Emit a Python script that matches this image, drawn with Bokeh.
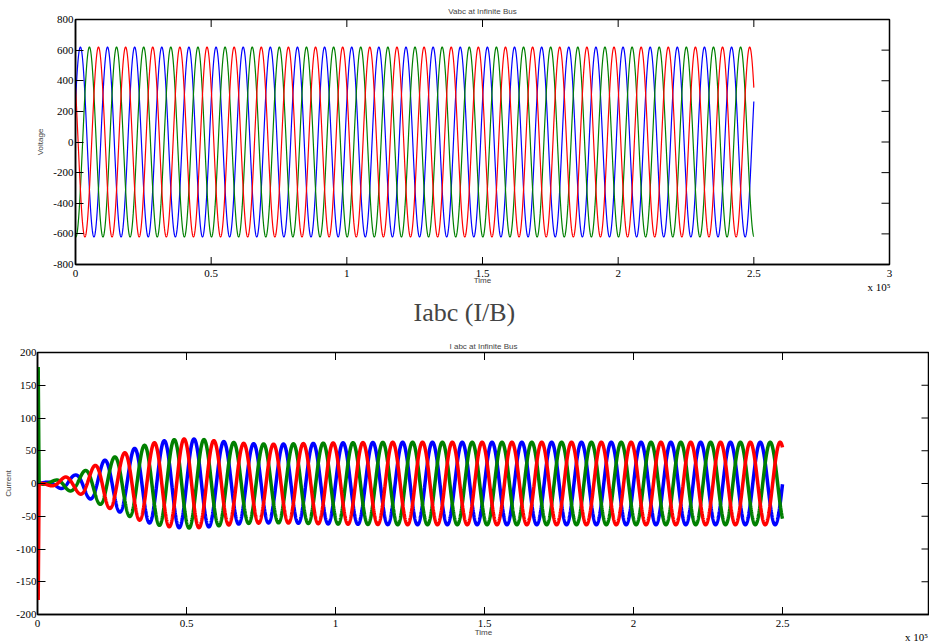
import numpy as np
from bokeh.plotting import figure
from bokeh.layouts import column
from bokeh.models import FixedTicker, CustomJSTickFormatter, Range1d, Title
from bokeh.embed import file_html
from bokeh.resources import INLINE

# ---------------- data ----------------
x_ticks = [0, 0.5, 1, 1.5, 2, 2.5, 3]
v_ticks = [-800, -600, -400, -200, 0, 200, 400, 600, 800]
i_ticks = [-200, -150, -100, -50, 0, 50, 100, 150, 200]
x_exponent = "x 10\u2075"

t_end = 2.5            # x 10^5
period = 0.1           # one cycle, in axis units
v_amp = 620            # voltage peak
# time (mod period) of each phase's positive peak
v_peak = {"blue": 0.018, "green": 0.0513, "red": 0.0847}
i_peak = {"blue": 0.0253, "green": 0.0587, "red": 0.092}

# current amplitude envelope
env_t = [0, 0.03, 0.06, 0.094, 0.128, 0.161, 0.195, 0.222, 0.262, 0.293, 0.322,
         0.356, 0.39, 0.42, 0.46, 0.49, 0.52, 0.56, 0.6, 0.65, 0.7, 0.8, 0.9,
         1.0, 1.2, 2.5]
env_a = [0, 2, 5, 10, 13, 20, 28, 35, 41, 47, 53, 58, 62, 65, 67, 68, 68, 67,
         65, 63, 61, 60, 61, 62, 63, 63]

# initial switching spike
spike_t = [0.001, 0.004, 0.007]
spike_green = [0, 178, 0]
spike_red = [0, -178, 0]

colors = {"blue": "#0000ff", "green": "#008000", "red": "#ff0000"}
order = ["blue", "green", "red"]

t = np.linspace(0, t_end, 8001)
env = np.interp(t, env_t, env_a)

SERIF = "Liberation Serif"
SANS = "Liberation Sans"


def style(p, xt, yt, x_min, y_min, x_max, y_max, exp_pos, xlab_standoff, ylab_standoff):
    p.xgrid.visible = False
    p.ygrid.visible = False
    p.outline_line_color = "black"
    p.outline_line_width = 1.5
    xa, ya = p.xaxis[0], p.yaxis[0]
    xa.ticker = FixedTicker(ticks=list(xt) + [exp_pos])
    xa.formatter = CustomJSTickFormatter(
        args=dict(pos=exp_pos, ex=x_exponent),
        code="if (Math.abs(tick - pos) < 1e-6) { return '\\n' + ex; } return tick.toString();")
    ya.ticker = FixedTicker(ticks=yt)
    ya.formatter = CustomJSTickFormatter(code="return tick.toString();")
    for ax in (xa, ya):
        ax.major_tick_out = 0
        ax.minor_tick_line_color = None
        ax.axis_line_width = 1.5
        ax.axis_line_color = "black"
        ax.major_tick_line_color = "black"
        ax.major_label_text_font = SERIF
        ax.major_label_text_font_size = "11px"
        ax.major_label_text_color = "black"
        ax.major_label_standoff = 2
        ax.axis_label_text_font = SANS
        ax.axis_label_text_font_size = "8px"
        ax.axis_label_text_font_style = "normal"
    xa.major_tick_in = 0
    ya.major_tick_in = 8
    xa.axis_label_standoff = xlab_standoff
    ya.axis_label_standoff = ylab_standoff
    # inward tick marks on the bottom, top and right edges of the box
    for yy in (y_min, y_max):
        p.scatter(xt, [yy] * len(xt), marker="dash", size=15, angle=np.pi / 2,
                  line_color="black", line_width=1)
    p.scatter([x_max] * len(yt), yt, marker="dash", size=16,
              line_color="black", line_width=1)


# ---------------- top: voltage ----------------
p1 = figure(width=929, height=336, x_range=Range1d(0, 3), y_range=Range1d(-800, 800),
            output_backend="svg", toolbar_location=None, frame_align=False,
            min_border_left=75, min_border_right=40, min_border_top=19, min_border_bottom=72,
            x_axis_label="Time", y_axis_label="Voltage")
p1.title.text = "Vabc at Infinite Bus"
p1.title.align = "center"
p1.title.text_font = SANS
p1.title.text_font_size = "8px"
p1.title.text_font_style = "normal"
p1.title.standoff = 7
style(p1, x_ticks, v_ticks, 0, -800, 3, 800, 2.961, -20, 5)
for c in order:
    v = v_amp * np.cos(2 * np.pi * (t - v_peak[c]) / period)
    p1.line(t, v, line_color=colors[c], line_width=1.2)
# caption between the two panels
p1.add_layout(Title(text="Iabc (I/B)", align="left", offset=338, text_font=SERIF,
                    text_font_size="26px", text_font_style="normal", standoff=17), "below")

# ---------------- bottom: current ----------------
x2_end = (929 - 37) / 298.0
p2 = figure(width=929, height=308, x_range=Range1d(0, x2_end), y_range=Range1d(-200, 200),
            output_backend="svg", toolbar_location=None, frame_align=False,
            min_border_left=37, min_border_right=0, min_border_top=16, min_border_bottom=30,
            x_axis_label="Time", y_axis_label="Current")
p2.title.text = "I abc at Infinite Bus"
p2.title.align = "center"
p2.title.text_font = SANS
p2.title.text_font_size = "8px"
p2.title.text_font_style = "normal"
p2.title.standoff = 4
style(p2, x_ticks, i_ticks, 0, -200, x2_end, 200, 2.95, -18, 0)
p2.yaxis[0].major_label_standoff = 1
for c in order:
    cur = env * np.cos(2 * np.pi * (t - i_peak[c]) / period)
    p2.line(t, cur, line_color=colors[c], line_width=3.5)
p2.line(spike_t, spike_green, line_color=colors["green"], line_width=2.5)
p2.line(spike_t, spike_red, line_color=colors["red"], line_width=2.5)

layout = column(p1, p2, spacing=0)
open("out.html", "w").write(file_html(layout, INLINE))
